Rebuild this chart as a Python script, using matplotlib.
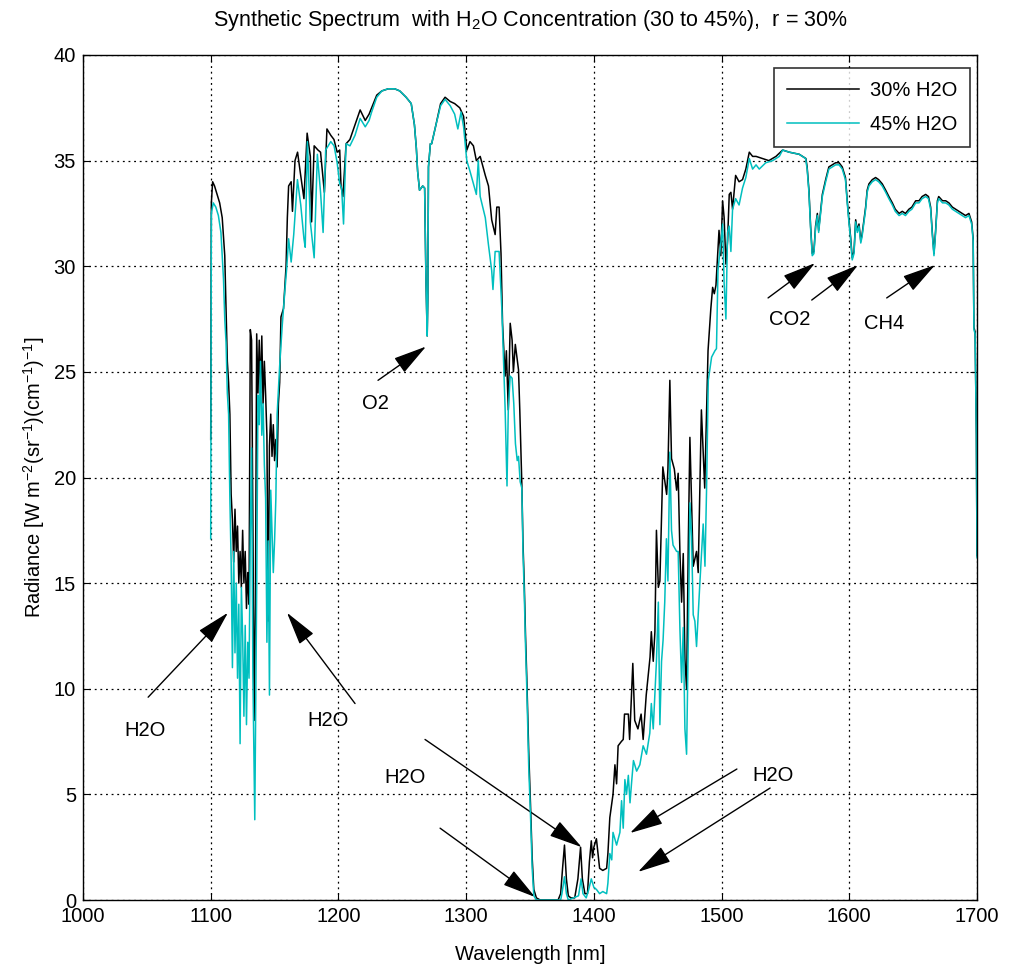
import matplotlib
matplotlib.use("Agg")
import matplotlib.pyplot as plt
from matplotlib.patches import FancyArrowPatch

plt.rcParams['font.family'] = ['Liberation Sans', 'DejaVu Sans']
plt.rcParams['mathtext.fontset'] = 'custom'
plt.rcParams['mathtext.rm'] = 'Liberation Sans'
plt.rcParams['mathtext.it'] = 'Liberation Sans:italic'
plt.rcParams['mathtext.bf'] = 'Liberation Sans:bold'

# ---------------- data ----------------
wl_30 = [1100, 1100.5, 1101.5, 1103, 1105, 1107, 1109, 1111, 1112, 1113, 1114, 1115, 1116, 1117, 1118,
         1119, 1120, 1121, 1122, 1123, 1124, 1125, 1126, 1127, 1128, 1129, 1130, 1131, 1132, 1133, 1134,
         1135, 1136, 1137, 1138, 1139, 1140, 1141, 1142, 1143, 1144, 1145, 1146, 1147, 1148, 1149, 1150,
         1151, 1152, 1153, 1154, 1155, 1157, 1159, 1160, 1161, 1163, 1164, 1166, 1168, 1170, 1173, 1175.5,
         1178, 1179, 1181, 1184, 1186, 1189, 1191, 1194, 1196.5, 1199, 1201, 1202, 1203.5, 1206, 1209,
         1213, 1217, 1221, 1224, 1226, 1230, 1234, 1239, 1244, 1248, 1253, 1257, 1259.5, 1261, 1262,
         1263.5, 1266, 1267.5, 1268.5, 1269.5, 1270, 1270.5, 1272, 1273, 1276, 1280, 1283.5, 1287.5, 1291,
         1295, 1298, 1300.5, 1303, 1305.7, 1308, 1311, 1315, 1317.5, 1320, 1322.7, 1324, 1325.8, 1327.3,
         1328.5, 1330.5, 1331.5, 1333, 1334.5, 1336, 1337, 1338.5, 1340, 1341, 1342, 1343.6, 1344.5,
         1345.5, 1346.5, 1347.5, 1349, 1350.4, 1351.7, 1353, 1355, 1358, 1365, 1372, 1374, 1375.5, 1377,
         1378.5, 1380, 1382, 1385, 1387.5, 1389.6, 1391, 1393, 1395, 1396.5, 1398, 1399, 1400, 1402,
         1404.5, 1407, 1410, 1411, 1412.5, 1415, 1416.5, 1417.8, 1419, 1421.5, 1423, 1424, 1427, 1428,
         1430.5, 1432, 1434.5, 1437, 1438.6, 1441, 1444, 1445, 1446.5, 1447.8, 1449, 1450.5, 1451.7, 1454,
         1457, 1458, 1459.5, 1460.8, 1463, 1464.8, 1466, 1467.4, 1468.7, 1470, 1471.3, 1472.6, 1474,
         1475.2, 1477.8, 1480.4, 1481.7, 1484.2, 1486.8, 1488, 1489.4, 1491.6, 1493, 1494.3, 1495.6, 1498,
         1499.4, 1500.8, 1502, 1503.4, 1504.7, 1506, 1507.3, 1508.6, 1511, 1513.7, 1516.4, 1519, 1521.7,
         1524.3, 1527, 1532, 1537, 1542.6, 1547.8, 1553, 1560.8, 1566,
         1567, 1568.4, 1569.7, 1571, 1572.3, 1573.6, 1575, 1576, 1577.5, 1578.9, 1581.5, 1584, 1586.7,
         1589.3, 1592, 1594.5, 1597, 1598.4, 1599.7, 1601, 1602.3, 1603.7, 1605, 1606.3, 1607.6, 1609,
         1610, 1612.8, 1614, 1615.4, 1618, 1620.6, 1623, 1625.8, 1628.5, 1631, 1633.7, 1636, 1639, 1641.5,
         1644, 1646.7, 1649, 1652, 1654.6, 1657, 1659.8, 1662, 1663.7, 1665, 1666.3, 1667.6, 1669, 1670,
         1673, 1675.5, 1678, 1680.7, 1683.3, 1686, 1688.5, 1691, 1693.7, 1695.8, 1697, 1697.6, 1698.5,
         1699.5, 1700]
rad_30 = [21.8, 33.0, 34.0, 33.8, 33.4, 33.0, 32.3, 30.5, 28.0, 25.5, 24.5, 23.0, 19.2, 18.0, 16.0,
          18.5, 16.5, 17.7, 15.0, 16.5, 14.8, 17.5, 15.0, 16.5, 13.8, 15.5, 14.0, 27.0, 26.5, 18.0, 8.5,
          14.0, 26.8, 24.0, 26.5, 24.0, 26.7, 23.5, 25.5, 23.9, 22.0, 13.2, 21.5, 23.0, 21.0, 22.5, 20.8,
          21.8, 20.5, 23.5, 24.5, 27.6, 28.0, 30.0, 32.3, 33.8, 34.0, 32.6, 35.0, 35.4, 34.5, 33.2, 36.3,
          35.2, 32.1, 35.7, 35.5, 35.4, 33.5, 36.5, 36.2, 36.0, 35.4, 35.5, 33.8, 33.3, 35.8, 36.0,
          36.7, 37.4, 36.9, 37.2, 37.5, 38.1, 38.3, 38.4, 38.4, 38.3, 38.0, 37.7, 36.7, 35.6, 34.5,
          33.6, 33.8, 33.7, 29.5, 26.7, 28.5, 34.7, 35.8, 35.8, 36.6, 37.7, 38.0, 37.8, 37.7,
          37.5, 37.1, 35.5, 35.9, 35.7, 35.0, 35.2, 34.3, 33.8, 32.2, 31.5, 32.8, 32.8, 30.6,
          27.3, 24.8, 26.0, 23.2, 27.3, 26.5, 25.0, 26.3, 25.6, 25.1, 23.2, 19.7, 16.9,
          15.0, 12.5, 10.5, 7.0, 4.5, 2.0, 0.5, 0.1, 0.0, 0.0, 0.0, 0.3, 1.5, 2.6,
          1.0, 0.2, 0.1, 0.1, 1.0, 2.5, 1.0, 0.3, 0.3, 1.8, 2.8, 2.0, 2.5, 2.9,
          1.5, 1.4, 1.5, 2.2, 3.9, 5.0, 6.4, 5.5, 7.3, 7.5, 7.6, 8.8, 8.8, 7.6,
          11.2, 8.5, 8.1, 8.8, 7.6, 9.7, 11.5, 12.7, 11.3, 12.7, 17.5, 14.8, 15.1, 20.5,
          19.2, 20.4, 24.6, 20.9, 20.4, 19.4, 20.2, 16.4, 14.1, 16.4, 11.4, 10.0, 17.1,
          21.9, 15.8, 16.5, 15.5, 23.2, 19.5, 22.5, 26.0, 28.0, 29.0, 28.7, 29.1, 31.7,
          30.5, 33.1, 32.3, 30.1, 31.2, 33.4, 33.5, 32.7, 34.3, 34.0, 34.1, 34.6, 35.4,
          35.2, 35.2, 35.1, 35.0, 35.2, 35.5, 35.4, 35.3, 35.1,
          34.7, 33.6, 31.9, 30.6, 30.7, 31.9, 32.5, 31.7, 32.6, 33.4, 34.1, 34.7, 34.8,
          34.9, 34.9, 34.7, 34.2, 33.1, 32.2, 31.4, 30.4, 30.7, 32.2, 31.7, 32.0, 31.2,
          31.5, 32.8, 33.6, 33.9, 34.1, 34.2, 34.1, 33.9, 33.6, 33.3, 33.0, 32.7, 32.5, 32.6,
          32.5, 32.7, 32.8, 33.1, 33.1, 33.3, 33.4, 33.3, 32.8, 31.6, 30.6, 31.7, 33.1, 33.3,
          33.1, 33.1, 33.0, 32.8, 32.7, 32.6, 32.5, 32.4, 32.5, 32.1, 31.3, 27.1, 26.9,
          22.0, 16.3]

wl_45 = [1100, 1100.5, 1102, 1104, 1106, 1108, 1110, 1111, 1112, 1113, 1114, 1115, 1116, 1117, 1118,
         1119, 1120, 1121, 1122, 1123, 1124, 1125, 1126, 1127, 1128, 1129, 1130, 1131, 1132, 1133,
         1134.5, 1136, 1137, 1138, 1139, 1140, 1141, 1142, 1143, 1144, 1145, 1146, 1147, 1148, 1149,
         1150, 1151, 1152, 1154, 1156, 1158, 1159.5, 1161, 1163, 1165, 1167.9, 1170.5, 1173, 1174,
         1175.7, 1178, 1181, 1183.5, 1186, 1188, 1190, 1194, 1196.6, 1199, 1201, 1202.5, 1204, 1206,
         1209, 1213, 1217, 1221, 1224, 1226, 1230, 1234, 1239, 1244, 1248, 1253, 1257, 1259.5, 1261,
         1262, 1263.5, 1266, 1267.5, 1268.5, 1269.5, 1270, 1270.5, 1272, 1273, 1276, 1280, 1283.5,
         1287.5, 1291, 1293.5, 1296, 1298, 1300.5, 1303, 1305.7, 1308, 1309.5, 1311, 1315, 1317.5, 1320,
         1321, 1322.7, 1325.8, 1328, 1330.5, 1332, 1333, 1334.5, 1336, 1337.3, 1338.6, 1340, 1341,
         1342.3, 1343.6, 1344.5, 1345.5, 1346.5, 1347.5, 1349, 1350.4, 1351.7, 1353, 1355, 1365, 1374,
         1375, 1377, 1378.5, 1380, 1388, 1390, 1391.5, 1394, 1396, 1398, 1400, 1402, 1404.5, 1407,
         1410, 1411, 1412.5, 1414, 1415, 1417.8, 1420.4, 1421.7, 1423, 1424.3, 1425.6, 1427, 1428.3,
         1429.6, 1431, 1433.5, 1436, 1438.6, 1441.2, 1443.8, 1445, 1446.5, 1449, 1450.5, 1451.7, 1453,
         1454.2, 1455.5, 1456.8, 1458, 1459.5, 1460.8, 1462, 1464.8, 1466, 1467.4, 1468.7, 1470,
         1471.3, 1472.6, 1474, 1475.2, 1476.5, 1477.8, 1479.1, 1480.4, 1483, 1485.6, 1487, 1488.2,
         1489.6, 1492.2, 1494.8, 1496, 1497.2, 1498.5, 1499.8, 1500.8, 1502, 1503.4, 1504.7, 1506,
         1507.3, 1508.6, 1511, 1513.7, 1516.4, 1519, 1521.7, 1524.3, 1527, 1529.5, 1534.6, 1540,
         1545.2, 1547.8, 1553, 1560.8, 1565.8,
         1567, 1568.4, 1569.7, 1571, 1572.3, 1573.6, 1575, 1576, 1577.5, 1578.9, 1581.5, 1584, 1586.7,
         1589.3, 1592, 1594.5, 1597, 1598.4, 1599.7, 1601, 1602.3, 1603.7, 1605, 1606.3, 1607.6, 1609,
         1610, 1612.8, 1614, 1615.4, 1618, 1620.6, 1623, 1625.8, 1628.5, 1631, 1633.7, 1636, 1639, 1641.5,
         1644, 1646.7, 1649, 1652, 1654.6, 1657, 1659.8, 1662, 1663.7, 1665, 1666.3, 1667.6, 1669, 1670,
         1673, 1675.5, 1678, 1680.7, 1683.3, 1686, 1688.5, 1691, 1693.7, 1695.8, 1697, 1697.6, 1698.5,
         1699.5, 1700]
rad_45 = [17.1, 32.5, 33.0, 32.8, 32.4, 31.6, 29.4, 27.5, 26.4, 24.0, 23.0, 19.0, 16.0, 11.0, 16.5,
          11.7, 15.0, 10.5, 14.0, 7.4, 14.8, 12.5, 8.7, 13.0, 8.3, 12.2, 10.5, 17.3, 21.4, 10.7,
          3.8, 14.8, 23.9, 22.5, 25.5, 22.0, 23.5, 20.6, 19.0, 12.2, 17.0, 9.7, 19.4, 17.5, 15.5,
          17.0, 19.0, 23.0, 25.3, 27.2, 28.8, 29.9, 31.3, 30.2, 31.5, 34.1, 32.9, 31.3, 30.9,
          35.9, 32.1, 30.4, 35.3, 33.5, 31.6, 35.5, 35.9, 35.7, 34.9, 33.9, 33.7, 32.0, 35.8,
          35.7, 36.2, 37.0, 36.6, 36.9, 37.3, 38.0, 38.3, 38.4, 38.4, 38.3, 38.0, 37.7, 36.7, 35.6,
          34.5, 33.6, 33.8, 33.7, 29.5, 26.7, 28.5, 34.7, 35.8, 35.8, 36.6, 37.6, 37.9,
          37.6, 37.2, 36.5, 37.3, 36.6, 35.0, 34.5, 33.9, 33.4, 35.0, 33.3, 32.3, 31.0, 29.8,
          28.9, 30.7, 30.7, 27.9, 23.3, 19.6, 23.2, 24.8, 24.7, 23.5, 21.6, 20.8, 21.0,
          19.8, 19.5, 16.5, 14.5, 12.0, 10.0, 6.3, 4.0, 1.5, 0.2, 0.0, 0.0, 0.0,
          0.3, 1.1, 0.3, 0.0, 0.2, 1.0, 0.3, 0.1, 0.5, 1.0, 0.6, 0.5, 0.3, 0.4,
          0.3, 0.8, 2.2, 1.9, 3.2, 2.6, 3.2, 4.7, 3.4, 5.7, 5.0, 5.9, 4.6,
          5.6, 6.6, 6.1, 6.4, 7.3, 6.9, 7.9, 9.3, 8.1, 11.3, 14.1, 8.3, 11.3,
          12.3, 14.1, 17.1, 15.1, 21.2, 17.5, 16.8, 16.5, 16.5, 12.8, 10.3, 12.9,
          8.1, 6.9, 12.5, 18.8, 17.2, 13.5, 13.2, 12.0, 15.0, 17.8, 15.8, 19.3,
          24.6, 25.7, 26.0, 26.1, 29.8, 30.6, 31.3, 32.0, 29.2, 27.5, 31.6, 31.9,
          30.7, 32.7, 33.2, 32.9, 33.7, 34.2, 35.1, 34.6, 34.8, 34.6, 34.9, 35.0,
          35.2, 35.5, 35.4, 35.3, 35.1,
          34.6, 33.5, 31.8, 30.5, 30.6, 31.8, 32.4, 31.6, 32.5, 33.3, 34.0, 34.6, 34.7,
          34.8, 34.8, 34.6, 34.1, 33.0, 32.1, 31.3, 30.3, 30.6, 32.1, 31.6, 31.9, 31.1,
          31.4, 32.7, 33.5, 33.8, 34.0, 34.1, 34.0, 33.8, 33.5, 33.2, 32.9, 32.6, 32.4, 32.5,
          32.4, 32.6, 32.7, 33.0, 33.0, 33.2, 33.3, 33.2, 32.7, 31.5, 30.5, 31.6, 33.0, 33.2,
          33.0, 33.0, 32.9, 32.7, 32.6, 32.5, 32.4, 32.3, 32.4, 32.0, 31.2, 27.0, 26.8,
          22.0, 16.2]

series_labels = ['30% H2O', '45% H2O']
series_colors = ['#000000', '#00BFBF']
x_ticks = [1000, 1100, 1200, 1300, 1400, 1500, 1600, 1700]
y_ticks = [0, 5, 10, 15, 20, 25, 30, 35, 40]

# annotations: (text, text_xy, [(tail, head), ...])
annotations = [
    ('H2O', (1048.5, 8.0), [((1051, 9.6), (1113.5, 13.6))]),
    ('H2O', (1192, 8.5), [((1213, 9.3), (1159.7, 13.6))]),
    ('O2', (1229, 23.5), [((1231, 24.6), (1268.6, 26.2))]),
    ('CO2', (1553.6, 27.5), [((1536.4, 28.5), (1573.2, 30.15)), ((1570.6, 28.4), (1606.9, 30.06))]),
    ('CH4', (1627, 27.3), [((1629.3, 28.5), (1667.2, 30.06))]),
    ('H2O', (1252, 5.8), [((1267.8, 7.6), (1390.5, 2.5)), ((1279.6, 3.4), (1354, 0.14))]),
    ('H2O', (1540.3, 5.9), [((1512, 6.2), (1428.3, 3.17)), ((1538, 5.3), (1434.6, 1.33))]),
]

FS = 14.5

# ---------------- figure ----------------
fig = plt.figure(figsize=(10.09, 9.67), dpi=100)
ax = fig.add_axes([83/1009, 67/967, (977-83)/1009, (900-55)/967])

ax.plot(wl_30, rad_30, color=series_colors[0], lw=1.1, label=series_labels[0])
ax.plot(wl_45, rad_45, color=series_colors[1], lw=1.1, label=series_labels[1])

ax.set_xlim(1000, 1700)
ax.set_ylim(0, 40)
ax.set_xticks(x_ticks)
ax.set_yticks(y_ticks)
ax.tick_params(direction='in', top=True, right=True, length=5, width=0.8, labelsize=FS, pad=5)
ax.grid(True, color='black', linestyle=(0, (1.5, 3)), linewidth=0.9)
for s in ax.spines.values():
    s.set_linewidth(1.0)

ax.set_xlabel('Wavelength [nm]', fontsize=FS, labelpad=14)
ax.set_ylabel(r'Radiance [W m$^{-2}$(sr$^{-1}$)(cm$^{-1}$)$^{-1}$]', fontsize=FS, labelpad=5)
ax.set_title(r'Synthetic Spectrum  with H$_2$O Concentration (30 to 45%),  r = 30%', fontsize=15.5, pad=21)

leg = ax.legend(loc='upper right', bbox_to_anchor=(0.9922, 0.9846), fontsize=FS, frameon=True,
                fancybox=False, edgecolor='black', borderaxespad=0.0, handlelength=3.6,
                borderpad=0.65, labelspacing=0.75, handletextpad=0.5)
leg.get_frame().set_linewidth(1.2)

for text, txy, arrows in annotations:
    ax.text(txy[0], txy[1], text, fontsize=FS, ha='center', va='center')
    for tail, head in arrows:
        arr = FancyArrowPatch(tail, head, arrowstyle='-|>,head_length=1.9,head_width=0.5',
                              mutation_scale=11, color='black', lw=1.0, shrinkA=0, shrinkB=0)
        ax.add_patch(arr)

fig.savefig('out.png', dpi=100)
